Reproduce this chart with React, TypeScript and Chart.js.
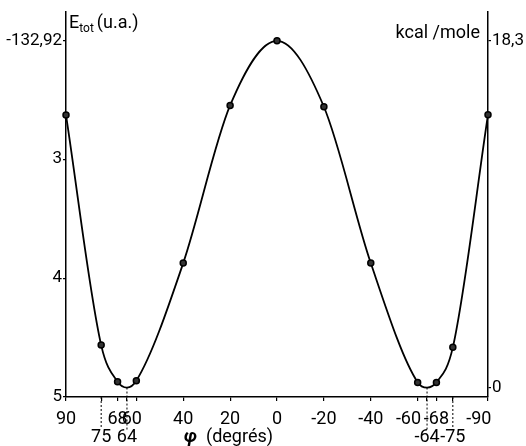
import React, { useEffect, useRef } from "react";
import { Chart, registerables } from "chart.js";

Chart.register(...registerables);

// ---- data ----
const ANGLES = [90, 75, 68, 64, 60, 40, 20, 0, -20, -40, -60, -64, -68, -75, -90];
const KCAL = [14.38, 2.24, 0.31, 0, 0.36, 6.57, 14.89, 18.3, 14.82, 6.57, 0.27, 0, 0.27, 2.12, 14.4];
const UNMARKED_ANGLES = [64, -64];
const X_TICKS_ROW1 = [90, 68, 60, 40, 20, 0, -20, -40, -60, -68, -90];
const X_TICKS_ROW2 = [75, 64, -64, -75];
const X_LABELS_NUDGED_LEFT = [60, -60, -90];
const GUIDES_FROM_CURVE = [64, -64];
const GUIDES_FROM_AXIS = [75, -75];
const E_TICKS = [2, 3, 4, 5];
const E_TICK_LABELS = ["-132,92", "3", "4", "5"];
const KCAL_TICKS = [0, 18.3];
const KCAL_TICK_LABELS = ["0", "18,3"];
const KCAL_PER_CENTI_AU = 6.275;
const KCAL_MIN = -0.5;
const KCAL_MAX = 19.82;
const E_AT_KCAL_MIN = 5;

const FONT = "Roboto, 'Noto Sans', sans-serif";

const E_MIN = E_AT_KCAL_MIN - (KCAL_MAX - KCAL_MIN) / KCAL_PER_CENTI_AU;

const guidesPlugin = {
  id: "guides",
  afterDraw(chart: any) {
    const ctx = chart.ctx;
    const xs = chart.scales.x;
    const ys = chart.scales.y;
    const bottom = chart.chartArea.bottom;
    ctx.save();
    ctx.strokeStyle = "#000";
    ctx.lineWidth = 1;
    ctx.setLineDash([2, 2]);
    GUIDES_FROM_CURVE.forEach((a) => {
      const i = ANGLES.indexOf(a);
      const x = xs.getPixelForValue(a);
      const y = ys.getPixelForValue(KCAL[i]);
      ctx.beginPath();
      ctx.moveTo(x, y);
      ctx.lineTo(x, bottom + 33);
      ctx.stroke();
    });
    GUIDES_FROM_AXIS.forEach((a) => {
      const x = xs.getPixelForValue(a);
      ctx.beginPath();
      ctx.moveTo(x, bottom);
      ctx.lineTo(x, bottom + 31);
      ctx.stroke();
    });
    ctx.setLineDash([]);

    // axis titles
    ctx.fillStyle = "#000";
    ctx.textBaseline = "alphabetic";
    ctx.textAlign = "left";
    let x = chart.chartArea.left + 3;
    ctx.font = `18px ${FONT}`;
    ctx.fillText("E", x, 28);
    x += ctx.measureText("E").width;
    ctx.font = `12px ${FONT}`;
    ctx.fillText("tot", x, 32);
    x += ctx.measureText("tot").width + 3;
    ctx.font = `18px ${FONT}`;
    ctx.fillText("(u.a.)", x, 28);

    ctx.textAlign = "right";
    ctx.font = `18px ${FONT}`;
    ctx.fillText("kcal /mole", chart.chartArea.right - 8, 38);

    ctx.textAlign = "left";
    ctx.font = `bold italic 18px ${FONT}`;
    ctx.fillText("φ", 184, 442);
    ctx.font = `18px ${FONT}`;
    ctx.fillText("(degrés)", 206, 442);
    ctx.restore();
  },
};

export default function App() {
  const ref = useRef<HTMLCanvasElement | null>(null);
  useEffect(() => {
    document.body.style.margin = "0";
    const canvas = ref.current!;
    const xFont = { family: FONT, size: 18, lineHeight: 1.0 };
    const yFont = { family: FONT, size: 17, lineHeight: 1.1 };
    const xLabel = (v: number) => {
      let s = String(v);
      if (X_LABELS_NUDGED_LEFT.includes(v)) s += v === 60 ? "\u2002" : "\u2002\u2002";
      return X_TICKS_ROW2.includes(v) ? ["", s] : s;
    };
    const chart = new Chart(canvas, {
      type: "line",
      data: {
        datasets: [
          {
            data: ANGLES.map((a, i) => ({ x: a, y: KCAL[i] })),
            borderColor: "#000",
            borderWidth: 1.8,
            cubicInterpolationMode: "monotone",
            pointRadius: ANGLES.map((a) => (UNMARKED_ANGLES.includes(a) ? 0 : 3)),
            pointBackgroundColor: "#333",
            pointBorderColor: "#000",
            pointBorderWidth: 1.5,
            yAxisID: "y",
            clip: false as any,
          },
        ],
      },
      options: {
        responsive: false,
        animation: false,
        events: [],
        layout: { padding: { top: 12, left: 0, right: 0, bottom: 0 } },
        plugins: { legend: { display: false }, tooltip: { enabled: false } },
        scales: {
          x: {
            type: "linear",
            position: "bottom",
            min: -90,
            max: 90,
            reverse: true,
            afterBuildTicks: (s: any) => {
              s.ticks = [...X_TICKS_ROW1, ...X_TICKS_ROW2]
                .sort((a, b) => b - a)
                .map((v) => ({ value: v }));
            },
            afterFit: (s: any) => {
              s.height = 49;
            },
            ticks: {
              autoSkip: false,
              maxRotation: 0,
              minRotation: 0,
              padding: 9,
              color: "#000",
              font: xFont,
              callback: (v: any) => xLabel(v),
            },
            grid: { display: true, drawOnChartArea: false, drawTicks: true, tickLength: 4, color: "#000", lineWidth: 1.2 },
            border: { display: true, color: "#000", width: 1.5 },
          },
          yE: {
            type: "linear",
            position: "left",
            min: E_MIN,
            max: E_AT_KCAL_MIN,
            reverse: true,
            afterBuildTicks: (s: any) => {
              s.ticks = E_TICKS.map((v) => ({ value: v }));
            },
            afterFit: (s: any) => {
              s.width = 66;
            },
            ticks: {
              padding: 1,
              color: "#000",
              font: yFont,
              callback: (v: any) => E_TICK_LABELS[E_TICKS.indexOf(v)],
            },
            grid: { display: true, drawOnChartArea: false, drawTicks: true, tickLength: 3, color: "#000", lineWidth: 1.2 },
            border: { display: true, color: "#000", width: 1.5 },
          },
          y: {
            type: "linear",
            position: "right",
            min: KCAL_MIN,
            max: KCAL_MAX,
            afterBuildTicks: (s: any) => {
              s.ticks = KCAL_TICKS.map((v) => ({ value: v }));
            },
            afterFit: (s: any) => {
              s.width = 38;
            },
            ticks: {
              padding: 1,
              color: "#000",
              font: yFont,
              callback: (v: any) => KCAL_TICK_LABELS[KCAL_TICKS.indexOf(v)],
            },
            grid: { display: true, drawOnChartArea: false, drawTicks: true, tickLength: 3, color: "#000", lineWidth: 1.2 },
            border: { display: true, color: "#000", width: 1.5 },
          },
        },
      } as any,
      plugins: [guidesPlugin],
    });
    return () => chart.destroy();
  }, []);
  return (
    <div style={{ position: "absolute", left: 0, top: 0, width: 526, height: 446, background: "#fff" }}>
      <canvas ref={ref} width={526} height={446} />
    </div>
  );
}
